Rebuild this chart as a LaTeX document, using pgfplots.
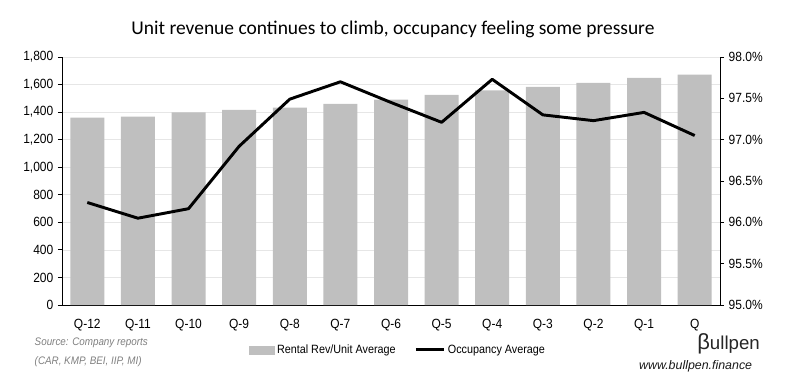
\documentclass[border=0pt]{standalone}
\usepackage{pgfplots}
\pgfplotsset{compat=1.18}
\usepackage{fontspec}
\setmainfont{Liberation Sans}
\newfontfamily\narrow[FakeStretch=0.9]{Liberation Sans}
\newfontfamily\titlefont{Carlito}
\definecolor{barGray}{HTML}{BFBFBF}
\definecolor{gridGray}{HTML}{E6E6E6}
\definecolor{srcGray}{HTML}{7F7F7F}
\begin{document}
\begin{tikzpicture}
\pgfplotsset{
  every axis/.append style={scale only axis, width=493.5pt, height=186pt, xmin=-0.5, xmax=12.5,
    tick label style={font=\narrow\fontsize{10}{11}\selectfont, black},
    /pgf/number format/assume math mode=true,
    tick align=outside, major tick length=3pt, axis line style={black, line width=0.6pt}, tick style={black, line width=0.6pt}}
}
\begin{axis}[
  axis x line*=bottom, axis y line*=left,
  ybar, bar width=25.5pt,
  ymin=0, ymax=1800, ytick={0,200,...,1800},
  yticklabel style={/pgf/number format/1000 sep={,}},
  ymajorgrids, grid style={gridGray, line width=0.5pt},
  xtick={0,...,12},
  xticklabels={Q-12,Q-11,Q-10,Q-9,Q-8,Q-7,Q-6,Q-5,Q-4,Q-3,Q-2,Q-1,Q},
  major x tick style={draw=none},
  extra x ticks={-0.5,0.5,...,12.5}, extra x tick labels={},
  extra x tick style={grid=none, major tick length=4pt, tick style={draw=black}},
  xticklabel style={yshift=-4pt},
]
\addplot[fill=barGray, draw=none] coordinates {
(0,1360) (1,1367) (2,1398) (3,1417) (4,1432) (5,1460) (6,1490) (7,1525) (8,1558) (9,1584) (10,1613) (11,1649) (12,1673)};
\end{axis}
\begin{axis}[
  axis x line=none, axis y line*=right,
  ymin=95, ymax=98, ytick={95,95.5,...,98},
  yticklabel={\pgfmathprintnumber[fixed,fixed zerofill,precision=1]{\tick}\%},
  clip=false,
  legend style={at={(0.511,-0.181)}, anchor=center, draw=none, fill=none, legend columns=2,
    font=\narrow\fontsize{9}{10}\selectfont, /tikz/every even column/.append style={column sep=12pt}},
]
\addlegendimage{legend image code/.code={\fill[barGray] (0pt,-3pt) rectangle (18.75pt,3pt);}}
\addlegendentry{Rental Rev/Unit Average}
\addlegendimage{legend image code/.code={\draw[black, line width=2.2pt] (0pt,0pt) -- (21pt,0pt);}}
\addlegendentry{Occupancy Average}
\addplot[black, line width=2.2pt, mark=none, line join=round] coordinates {
(0,96.24) (1,96.05) (2,96.165) (3,96.92) (4,97.49) (5,97.70) (6,97.45) (7,97.21) (8,97.73) (9,97.30) (10,97.23) (11,97.33) (12,97.05)};
\node[font=\titlefont\fontsize{14.6}{16}\selectfont, anchor=center] at (rel axis cs:0.503,1.11) {Unit revenue continues to climb, occupancy feeling some pressure};
\node[font=\narrow\itshape\fontsize{8.2}{9}\selectfont, text=srcGray, anchor=west] at (rel axis cs:-0.0486,-0.153) {Source: Company reports};
\node[font=\narrow\itshape\fontsize{8.2}{9}\selectfont, text=srcGray, anchor=west] at (rel axis cs:-0.0486,-0.23) {(CAR, KMP, BEI, IIP, MI)};
\node[font=\fontsize{14}{15}\selectfont, text=black!85, anchor=center, inner sep=1pt] at (rel axis cs:1.013,-0.155) {{\fontsize{16.5}{16.5}\selectfont β}ullpen};
\node[font=\itshape\fontsize{9.3}{10}\selectfont, text=black!90, anchor=east] at (rel axis cs:1.056,-0.247) {www.bullpen.finance};
\end{axis}
\pgfresetboundingbox
\useasboundingbox ([shift={(-46.5pt,-63.75pt)}]current axis.south west) rectangle ([shift={(50.25pt,42.75pt)}]current axis.north east);
\end{tikzpicture}
\end{document}
